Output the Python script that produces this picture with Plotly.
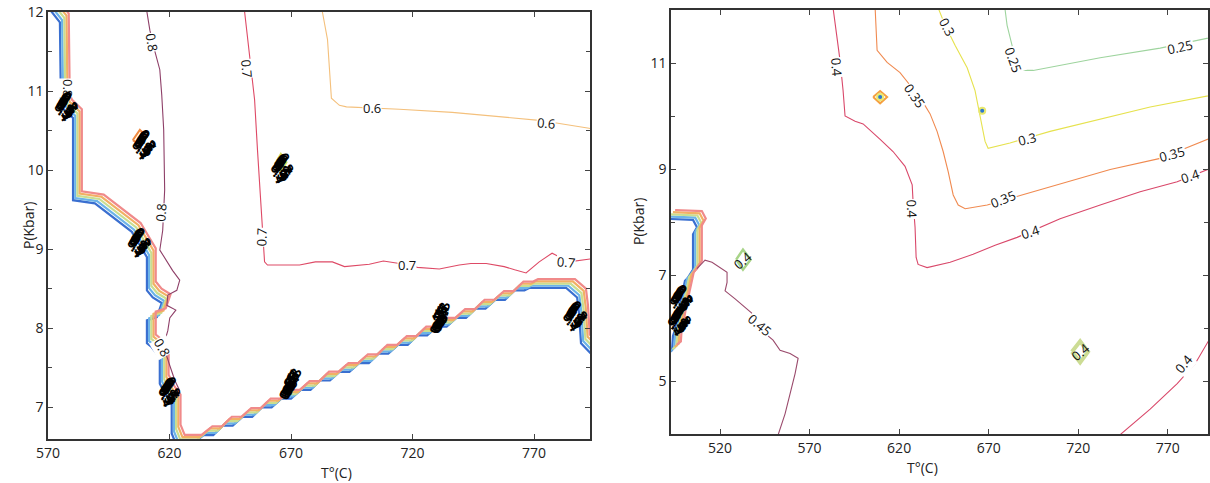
import plotly.graph_objects as go

# ---------------- data: left panel ----------------
L_T_ticks = [570, 620, 670, 720, 770]
L_P_ticks = [7, 8, 9, 10, 11, 12]
L_T_range = [570, 793]
L_P_range = [6.6, 12]

# outer (blue) line of the dense band of contours
band_L_T = [569, 574.9, 575.3, 576.2, 580.3, 580.3, 589.3, 604.5, 607.8, 610.7, 610.7, 613.1, 616.8, 614.8,
            610.7, 610.7, 612.7, 616.0, 616.0, 618.5, 620.9, 620.9, 622.6, 629.6,
            634, 638, 642, 646, 650, 654, 658, 662, 666, 670, 674, 678, 682, 686, 690, 694, 698, 702,
            706, 710, 714, 718, 722, 726, 730, 734, 738, 742, 746, 750, 754, 758, 762, 766,
            768.0, 783.2, 787.7, 788.5, 789.3, 792.6, 795]
band_L_P = [12.1, 11.87, 10.89, 10.78, 10.66, 9.62, 9.58, 9.22, 9.05, 8.90, 8.48, 8.39, 8.32, 8.14,
            8.10, 7.81, 7.76, 7.63, 7.30, 7.15, 7.05, 6.67, 6.54, 6.54,
            6.65, 6.65, 6.77, 6.77, 6.88, 6.88, 7.00, 7.00, 7.11, 7.11, 7.22, 7.22, 7.34, 7.34, 7.45, 7.45, 7.56, 7.56,
            7.68, 7.68, 7.79, 7.79, 7.91, 7.91, 8.02, 8.02, 8.13, 8.13, 8.25, 8.25, 8.36, 8.36, 8.48, 8.48,
            8.51, 8.51, 8.39, 8.19, 7.81, 7.70, 7.63]

c08_T = [610.7, 611.9, 614.0, 616.0, 616.8, 617.6, 618.0, 617.2, 616.0, 621.3, 624.2, 623.0, 619.3,
         618.9, 622.6, 620.1, 619.3, 617.5, 620.1, 622.2, 624.2]
c08_P = [12.0, 11.77, 11.5, 11.27, 10.95, 10.51, 9.75, 9.24, 8.99, 8.73, 8.61, 8.48, 8.42,
         8.29, 8.23, 8.13, 7.97, 7.78, 7.53, 7.34, 7.21]

c07_T = [650.9, 653.0, 655.0, 656.2, 657.5, 658.3, 659.1, 660.3, 673.5, 680.0, 687.0, 692.0, 702.2, 708.0,
         714.6, 722.0, 731.0, 739.2, 744.0, 750.3, 757.7, 762.0, 766.7, 772.1, 777.4, 784.4, 792.6, 794]
c07_P = [12.0, 11.39, 10.89, 10.25, 9.62, 9.11, 8.84, 8.80, 8.80, 8.84, 8.84, 8.78, 8.81, 8.85,
         8.82, 8.77, 8.75, 8.80, 8.82, 8.82, 8.78, 8.74, 8.70, 8.84, 8.95, 8.84, 8.87, 8.88]

c06_T = [682.9, 685.0, 686.6, 689.9, 692.8, 714.6, 736.3, 772.1, 792.6, 794]
c06_P = [12.0, 11.65, 10.91, 10.82, 10.80, 10.77, 10.73, 10.63, 10.53, 10.52]

loopA_T = [604.9, 607.8, 610.7, 607.8, 604.9]
loopA_P = [10.38, 10.51, 10.42, 10.32, 10.38]
loopB_T = [663.5, 665.8, 668.0, 665.8, 663.5]
loopB_P = [10.08, 10.20, 10.10, 9.98, 10.08]

# labels: (T, P, text, angle)
L_labels = [(612.7, 11.62, "0.8", 80), (616.4, 9.46, "0.8", -85), (616.8, 7.76, "0.8", 60),
            (578.2, 11.04, "0.8", 90),
            (651.7, 11.29, "0.7", 85), (658.0, 9.15, "0.7", -88),
            (717.8, 8.80, "0.7", 0), (783.1, 8.84, "0.7", 5),
            (703.1, 10.78, "0.6", 0), (774.9, 10.59, "0.6", 5)]
L_blobs = [(577.8, 10.80, 60), (607.8, 9.08, 60), (620.1, 7.19, 70), (669.4, 7.30, -70),
           (731.0, 8.13, -80), (787.2, 8.15, 60), (609.8, 10.32, 60), (666.5, 10.02, 70)]

# ---------------- data: right panel ----------------
R_T_ticks = [520, 570, 620, 670, 720, 770]
R_P_ticks = [5, 7, 9, 11]
R_T_range = [492.6, 792.5]
R_P_range = [4, 12]

band_R_T = [490.0, 504.9, 507.1, 504.9, 504.9, 502.1, 500.4, 499.3, 497.6, 495.9, 494.8, 493.7, 493.2, 491.0]
band_R_P = [8.06, 8.04, 7.90, 7.77, 7.10, 6.95, 6.89, 6.72, 6.48, 6.19, 5.96, 5.85, 5.58, 5.52]

c045_T = [507.1, 511.6, 515.5, 518.9, 523.9, 523.9, 522.8, 528.4, 532.8, 536.7, 539.5, 543.0, 546.8, 549.6,
          553.5, 559.1, 563.6, 561.9, 559.1, 556.3, 551.8, 551.0]
c045_P = [7.12, 7.28, 7.24, 7.16, 7.05, 6.86, 6.70, 6.55, 6.42, 6.32, 6.23, 6.05, 5.85, 5.77,
          5.58, 5.52, 5.43, 5.14, 4.76, 4.38, 3.92, 3.80]

c04a_T = [583.1, 584.8, 587.0, 588.7, 589.8, 595.4, 599.9, 609.4, 616.6, 623.3, 627.3, 627.8, 628.9, 629.5,
          630.6, 635.6, 648.5, 661.3, 673.6, 685.9, 709.9, 732.3, 754.6, 775.3, 793.7]
c04a_P = [12.04, 11.62, 11.05, 10.48, 10.0, 9.90, 9.85, 9.56, 9.33, 9.05, 8.70, 8.38, 7.90, 7.33,
          7.20, 7.14, 7.24, 7.39, 7.56, 7.71, 8.06, 8.32, 8.57, 8.76, 9.01]

c04b_T = [739.0, 741.8, 760.2, 775.3, 785.4, 793.7]
c04b_P = [3.81, 3.94, 4.47, 4.95, 5.33, 5.81]

c035_T = [606.6, 607.7, 613.3, 620.5, 627.8, 632.8, 637.3, 641.2, 644.6, 647.4, 650.2, 653.0, 656.9, 669.2,
          687.6, 713.9, 737.9, 765.8, 793.7]
c035_P = [12.04, 11.24, 11.01, 10.82, 10.51, 10.29, 10.04, 9.71, 9.33, 8.95, 8.51, 8.32, 8.25, 8.32,
          8.50, 8.76, 8.99, 9.20, 9.58]

c03_T = [641.8, 645.7, 651.3, 658.0, 662.4, 665.2, 668.0, 669.7, 681.9, 704.3, 732.3, 760.2, 792.6, 794]
c03_P = [12.04, 11.71, 11.33, 10.91, 10.48, 9.96, 9.52, 9.39, 9.49, 9.71, 9.94, 10.17, 10.38, 10.40]

c025_T = [679.2, 680.3, 683.1, 685.0, 687.6, 694.9, 732.3, 765.8, 792.6, 794]
c025_P = [12.0, 11.71, 11.33, 11.0, 10.86, 10.86, 11.10, 11.28, 11.47, 11.49]

diamond_T = [605.5, 609.4, 613.3, 609.4, 605.5]
diamond_P = [10.36, 10.47, 10.36, 10.24, 10.36]
dot_T = [609.4, 666.4]
dot_P = [10.36, 10.10]
loopC_T = [529.0, 532.8, 537.0, 532.8, 529.0]
loopC_P = [7.29, 7.48, 7.29, 7.10, 7.29]
loopD_T = [716.5, 721.1, 725.5, 721.1, 716.5]
loopD_P = [5.55, 5.75, 5.55, 5.35, 5.55]

R_labels = [(585.3, 10.91, "0.4", 85), (627.3, 8.25, "0.4", 88), (693.2, 7.81, "0.4", -18),
            (782.6, 8.86, "0.4", -18), (778.7, 5.33, "0.4", -50),
            (628.9, 10.38, "0.35", 55), (678.1, 8.44, "0.35", -22), (772.5, 9.29, "0.35", -15),
            (646.8, 11.68, "0.3", 62), (691.5, 9.56, "0.3", -14),
            (683.7, 11.05, "0.25", 70), (776.9, 11.31, "0.25", -12),
            (542.3, 6.06, "0.45", 40)]
R_loop_labels = [(532.8, 7.29, "0.4", -40), (721.1, 5.55, "0.4", -40)]
R_blobs = [(498.7, 6.53, 60), (497.6, 6.13, 60)]

# ---------------- styling ----------------
band_colors = ["#3a6fd0", "#6cb4e8", "#c9de90", "#f2b064", "#f08a8a"]
FONT = "Open Sans, Liberation Sans, sans-serif"
W, H = 1210, 483
dom_Lx = [48 / W, 590 / W]
dom_Ly = [(H - 439) / H, (H - 12) / H]
dom_Rx = [671 / W, 1208 / W]
dom_Ry = [(H - 434) / H, (H - 10) / H]

fig = go.Figure()


def line(T, P, color, xa, ya, width=1.1):
    fig.add_trace(go.Scatter(x=T, y=P, mode="lines", xaxis=xa, yaxis=ya,
                             line=dict(color=color, width=width), hoverinfo="skip", showlegend=False))


def band(T, P, xa, ya, trange, prange, xdom, ydom, spacing_px=2.2):
    dT = spacing_px * (trange[1] - trange[0]) / ((xdom[1] - xdom[0]) * W)
    dP = spacing_px * (prange[1] - prange[0]) / ((ydom[1] - ydom[0]) * H)
    for k, c in enumerate(band_colors):
        line([t + k * dT for t in T], [p + k * dP for p in P], c, xa, ya, width=2.2)


# left panel
band(band_L_T, band_L_P, "x", "y", L_T_range, L_P_range, dom_Lx, dom_Ly)
line(c08_T, c08_P, "#8e3f68", "x", "y")
line(c07_T, c07_P, "#de4a66", "x", "y")
line(c06_T, c06_P, "#f4c07c", "x", "y")
line(loopA_T, loopA_P, "#f08a40", "x", "y", 2)
line(loopB_T, loopB_P, "#d8e060", "x", "y", 2.5)
fig.add_trace(go.Scatter(x=[665.8], y=[10.08], mode="markers", xaxis="x", yaxis="y",
                         marker=dict(color="#3a8ad8", size=7), hoverinfo="skip", showlegend=False))

# right panel
band(band_R_T, band_R_P, "x2", "y2", R_T_range, R_P_range, dom_Rx, dom_Ry)
line(c045_T, c045_P, "#9a4a6c", "x2", "y2")
line(c04a_T, c04a_P, "#d9486a", "x2", "y2")
line(c04b_T, c04b_P, "#d9486a", "x2", "y2")
line(c035_T, c035_P, "#f08a50", "x2", "y2")
line(c03_T, c03_P, "#e6e24e", "x2", "y2")
line(c025_T, c025_P, "#9ed49e", "x2", "y2")
line(diamond_T, diamond_P, "#f5a040", "x2", "y2", 2)
line(loopC_T, loopC_P, "#a8d488", "x2", "y2", 2.5)
line(loopD_T, loopD_P, "#ccdc94", "x2", "y2", 4)
fig.add_trace(go.Scatter(x=dot_T, y=dot_P, mode="markers", xaxis="x2", yaxis="y2",
                         marker=dict(color="#2a78d0", size=6, line=dict(color="#e8e870", width=2)),
                         hoverinfo="skip", showlegend=False))

annotations = []


def label(T, P, text, angle, xr, yr, bg="white"):
    annotations.append(dict(x=T, y=P, xref=xr, yref=yr, text=text, textangle=angle, showarrow=False,
                            bgcolor=bg, borderpad=0, font=dict(family=FONT, size=13, color="#111")))


def blob(T, P, angle, xr, yr):
    for k, t in enumerate(["0.1", "0.2", "0.3", "0.4", "0.5", "0.6", "0.7", "0.8"]):
        annotations.append(dict(x=T, y=P, xref=xr, yref=yr, text="<b>%s</b>" % t, textangle=angle,
                                showarrow=False, xshift=(k - 3.5) * 1.0, yshift=(k - 3.5) * 1.6,
                                font=dict(family=FONT, size=14, color="#000")))


for T, P, t, a in L_labels:
    label(T, P, t, a, "x", "y")
for T, P, a in L_blobs:
    blob(T, P, a, "x", "y")
for T, P, t, a in R_labels:
    label(T, P, t, a, "x2", "y2")
for T, P, t, a in R_loop_labels:
    label(T, P, t, a, "x2", "y2", bg="rgba(0,0,0,0)")
for T, P, a in R_blobs:
    blob(T, P, a, "x2", "y2")

# axis titles
title_font = dict(family=FONT, size=14, color="#222")
annotations += [
    dict(x=sum(dom_Lx) / 2, y=(H - 472) / H, xref="paper", yref="paper", text="T°(C)", showarrow=False,
         font=title_font, yanchor="middle"),
    dict(x=sum(dom_Rx) / 2, y=(H - 467) / H, xref="paper", yref="paper", text="T°(C)", showarrow=False,
         font=title_font, yanchor="middle"),
    dict(x=17 / W, y=sum(dom_Ly) / 2, xref="paper", yref="paper", text="P(Kbar)", textangle=-90,
         showarrow=False, font=title_font),
    dict(x=638 / W, y=sum(dom_Ry) / 2, xref="paper", yref="paper", text="P(Kbar)", textangle=-90,
         showarrow=False, font=title_font),
]

axis_common = dict(showgrid=False, zeroline=False, showline=True, linecolor="#333", linewidth=1.5,
                   mirror="ticks", ticks="inside", ticklen=5, tickcolor="#444", tickwidth=1,
                   tickfont=dict(family=FONT, size=14, color="#222"), automargin=False)

fig.update_layout(
    width=W, height=H, margin=dict(l=0, r=0, t=0, b=0), paper_bgcolor="white", plot_bgcolor="white",
    showlegend=False, annotations=annotations,
    xaxis=dict(domain=dom_Lx, range=L_T_range, tickvals=L_T_ticks, anchor="y", **axis_common),
    yaxis=dict(domain=dom_Ly, range=L_P_range, tickvals=L_P_ticks, anchor="x",
               minor=dict(tickmode="linear", tick0=6.5, dtick=0.5, ticks="inside", ticklen=4,
                          tickcolor="#444"), **axis_common),
    xaxis2=dict(domain=dom_Rx, range=R_T_range, tickvals=R_T_ticks, anchor="y2", **axis_common),
    yaxis2=dict(domain=dom_Ry, range=R_P_range, tickvals=R_P_ticks, anchor="x2",
                minor=dict(tickmode="linear", tick0=4, dtick=1, ticks="inside", ticklen=4,
                           tickcolor="#444"), **axis_common),
)

fig.write_html("out.html", config={"displayModeBar": False},
               post_script="document.body.style.margin='0px';document.body.style.overflow='hidden';")
